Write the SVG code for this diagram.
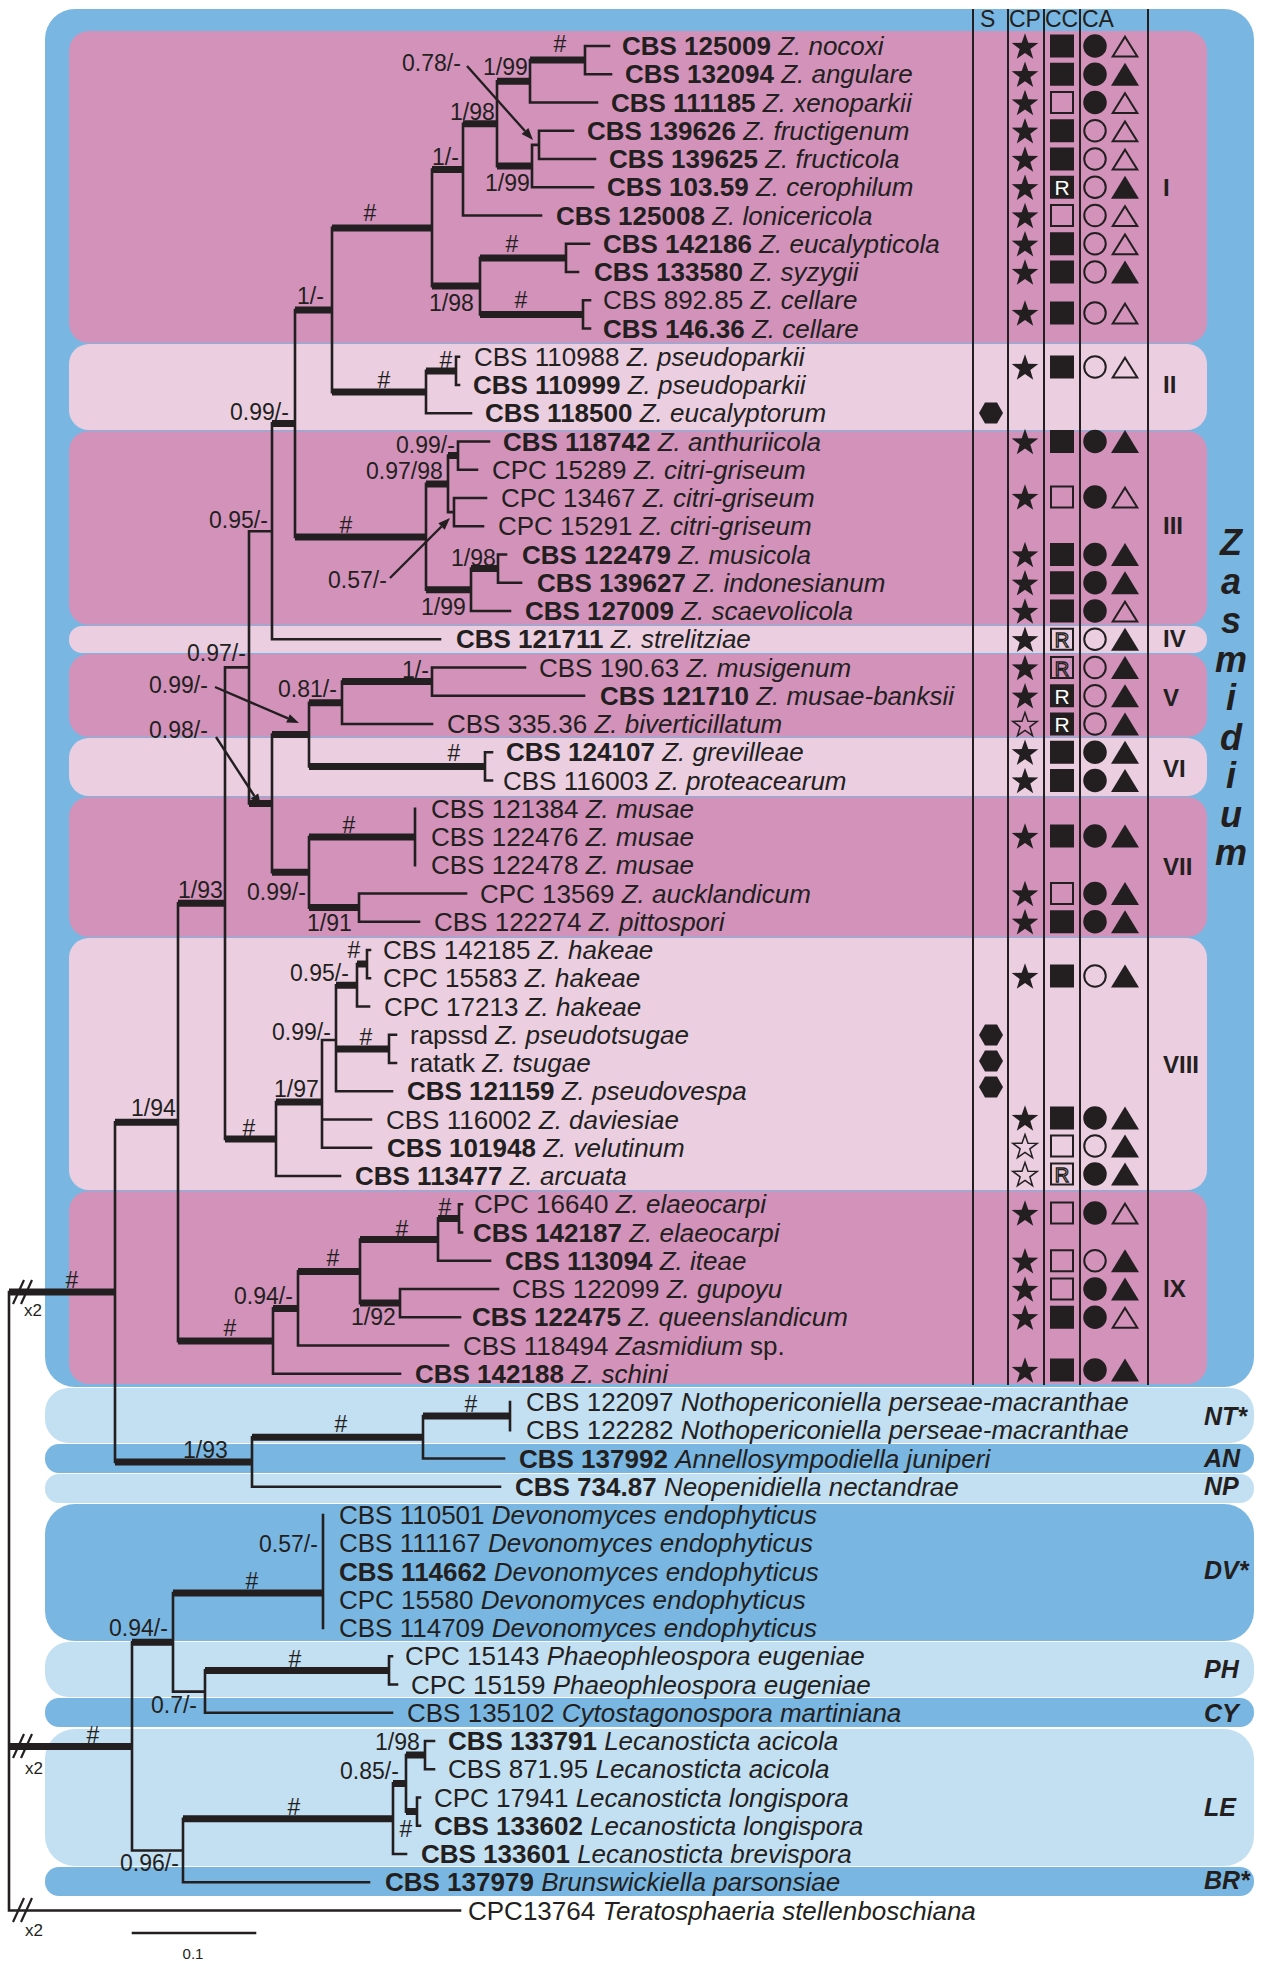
<svg xmlns="http://www.w3.org/2000/svg" xmlns:xlink="http://www.w3.org/1999/xlink" width="1263" height="1961" viewBox="0 0 1263 1961">
<style>
text{font-family:"Liberation Sans",Arial,Helvetica,sans-serif;fill:#231f20}
.tax{font-size:26px}
.sup{font-size:23px}
.hs{font-size:23px;text-anchor:middle}
.b{font-weight:bold}
.i{font-style:italic}
.cl{font-size:24px;font-weight:bold}
.gl{font-size:25px;font-weight:bold;font-style:italic}
.zl{font-size:36px;font-weight:bold;font-style:italic;text-anchor:middle}
.thin{fill:none;stroke:#231f20;stroke-width:2.6;stroke-linecap:square}
.thick{fill:none;stroke:#231f20;stroke-width:7}
.ar{fill:none;stroke:#231f20;stroke-width:2.4}
.ah{fill:#231f20}
.col{stroke:#231f20;stroke-width:2}
.dk{fill:#d292ba}
.lt{fill:#ebcfe1}
.bl{fill:#79b7e2}
.lb{fill:#c3dff2}
.f{fill:#231f20}
.o{fill:none;stroke:#231f20;stroke-width:2}
</style>
<defs>
<polygon id="starF" class="f" points="0,-14 3.29,-4.53 13.31,-4.33 5.33,1.73 8.23,11.33 0,5.6 -8.23,11.33 -5.33,1.73 -13.31,-4.33 -3.29,-4.53" transform="translate(0,1.3)"/>
<polygon id="starO" fill="none" stroke="#231f20" stroke-width="1.5" stroke-linejoin="miter" points="0,-12.8 3.01,-4.14 12.17,-3.96 4.87,1.58 7.52,10.36 0,5.1 -7.52,10.36 -4.87,1.58 -12.17,-3.96 -3.01,-4.14" transform="translate(0,1.3)"/>
<rect id="sqF" class="f" x="-12" y="-11.5" width="24" height="23"/>
<rect id="sqO" class="o" x="-11" y="-10.5" width="22" height="21"/>
<g id="sqRF"><rect class="f" x="-12" y="-11.5" width="24" height="23"/><text x="0" y="8" font-size="21" text-anchor="middle" style="fill:#ffffff">R</text></g>
<g id="sqRO"><rect class="o" x="-11" y="-10.5" width="22" height="21"/><text x="0" y="8" font-size="20" text-anchor="middle" style="fill:none;stroke:#231f20;stroke-width:1.3">R</text></g>
<circle id="ciF" class="f" r="11.75"/>
<circle id="ciO" class="o" r="10.75"/>
<polygon id="trF" class="f" points="0,-11.5 14,11.5 -14,11.5"/>
<polygon id="trO" class="o" points="0,-9.3 12.3,10.5 -12.3,10.5"/>
<polygon id="hex" class="f" points="-12,0 -6,-10.5 6,-10.5 12,0 6,10.5 -6,10.5"/>
</defs>

<g id="backgrounds">
<rect class="bl" x="45" y="9" width="1209" height="1378" rx="30"/>
<rect id="clade-I" class="dk" x="69" y="31" width="1138" height="312" rx="20"/>
<rect id="clade-II" class="lt" x="69" y="344" width="1138" height="86" rx="20"/>
<rect id="clade-III" class="dk" x="69" y="431" width="1138" height="194" rx="20"/>
<rect id="clade-IV" class="lt" x="69" y="626" width="1138" height="27" rx="13"/>
<rect id="clade-V" class="dk" x="69" y="654" width="1138" height="83" rx="20"/>
<rect id="clade-VI" class="lt" x="69" y="738" width="1138" height="58" rx="20"/>
<rect id="clade-VII" class="dk" x="69" y="797" width="1138" height="140" rx="20"/>
<rect id="clade-VIII" class="lt" x="69" y="938" width="1138" height="252" rx="20"/>
<rect id="clade-IX" class="dk" x="69" y="1191" width="1138" height="193" rx="20"/>
<rect id="box-NT" class="lb" x="45" y="1388" width="1209" height="55" rx="24"/>
<rect id="box-AN" class="bl" x="45" y="1444" width="1209" height="29" rx="14"/>
<rect id="box-NP" class="lb" x="45" y="1474" width="1209" height="29" rx="14"/>
<rect id="box-DV" class="bl" x="45" y="1504" width="1209" height="137" rx="30"/>
<rect id="box-PH" class="lb" x="45" y="1642" width="1209" height="55" rx="24"/>
<rect id="box-CY" class="bl" x="45" y="1698" width="1209" height="29" rx="14"/>
<rect id="box-LE" class="lb" x="45" y="1729" width="1209" height="137" rx="30"/>
<rect id="box-BR" class="bl" x="45" y="1867" width="1209" height="29" rx="14"/>
</g>

<g id="columns">
<line class="col" x1="973" y1="9" x2="973" y2="1385"/>
<line class="col" x1="1008" y1="9" x2="1008" y2="1385"/>
<line class="col" x1="1044" y1="9" x2="1044" y2="1385"/>
<line class="col" x1="1080" y1="9" x2="1080" y2="1385"/>
<line class="col" x1="1148" y1="9" x2="1148" y2="1385"/>
<text x="980" y="27" font-size="23">S</text>
<text x="1009" y="27" font-size="23">CP</text>
<text x="1045" y="27" font-size="23">CC</text>
<text x="1082" y="27" font-size="23">CA</text>
</g>

<g id="connectors">
<path class="thin" d="M585 46V74.25M585 46H609M585 74.25H611M530 60.1V102.5M530 102.5H597M497 81.3V166.1M532 144.9V187.25M532 144.9H539M532 187.25H593M539 130.75V159M539 130.75H573M539 159H595M463 123.7V215.5M463 215.5H541M432 169.6V286.1M480 257.9V314.4M566 243.75V272M566 243.75H589M566 272H578M583 300.25V328.5M583 300.25H590M583 328.5H590M332 227.9V392.1M426 370.9V413.25M426 413.25H471M456 356.75V385M456 356.75H459M456 385H459M295 310V536.9M426 483.9V589.8M448 455.6V512.1M448 512.1H454M458 441.5V469.75M458 441.5H489M458 469.75H477M454 498V526.25M454 498H486M454 526.25H483M471 568.6V611M471 611H510M498 554.5V582.75M498 554.5H506M498 582.75H521M272 423.4V639.25M272 639.25H440M249 531.3H272M249 531.3V803.5M225 667.4H249M272 734.6V872.3M309 702.8V766.4M342 681.6V724M342 724H432M432 667.5V695.75M432 667.5H525M432 695.75H584M485 752.25V780.5M485 752.25H492M485 780.5H492M309 837V907.6M415 808.75V865.25M359 893.5V921.75M359 893.5H466M359 921.75H419M225 667.4V1139M276 1102V1176M276 1176H340M322 1040V1147.75M322 1119.5H371M322 1147.75H371M322 1040H336M336 985.3V1091.25M336 1091.25H392M357 964.1V1006.5M357 1006.5H369M367 950V978.25M367 950H370M367 978.25H370M389 1034.75V1063M389 1034.75H396M389 1063H396M178 903.2V1341.1M273 1308.4V1373.75M273 1373.75H400M298 1271.4V1345.5M298 1345.5H448M360 1239.6V1303.1M438 1218.4V1260.75M438 1260.75H490M459 1204.25V1232.5M459 1204.25H462M459 1232.5H462M400 1289V1317.25M400 1289H498M400 1317.25H460M115 1122.2V1462M252 1437.3V1486.75M252 1486.75H500M423 1416.1V1458.5M423 1458.5H504M510 1402V1430.25M132 1642.3V1850.5M173 1593V1691.6M323 1515V1628M173 1691.6H205M205 1670.4V1712.75M205 1712.75H392M389 1656.25V1684.5M389 1656.25H392M389 1684.5H397M132 1850.5H183M183 1818.7V1882.25M183 1882.25H369M393 1783.4V1854M393 1854H406M406 1755.1V1811.6M425 1741V1769.25M425 1741H434M425 1769.25H434M417 1797.5V1825.75M417 1797.5H420M417 1825.75H420M9 1292.1V1910.5M9 1910.5H460"/>
<path class="thick" d="M530 60.1H585M497 81.3H530M497 166.1H532M463 123.7H497M432 169.6H463M432 286.1H480M480 257.9H566M480 314.4H583M332 227.9H432M295 310H332M332 392.1H426M426 370.9H456M272 423.4H295M295 536.9H426M426 483.9H448M448 455.6H458M426 589.8H471M471 568.6H498M249 803.5H272M272 734.6H309M309 702.8H342M342 681.6H432M309 766.4H485M272 872.3H309M309 837H415M309 907.6H359M178 903.2H225M225 1139H276M276 1102H322M336 985.3H357M357 964.1H367M336 1048.9H389M115 1122.2H178M178 1341.1H273M273 1308.4H298M298 1271.4H360M360 1239.6H438M438 1218.4H459M360 1303.1H400M9 1292.1H115M115 1462H252M252 1437.3H423M423 1416.1H510M9 1746.4H132M132 1642.3H173M173 1593H323M205 1670.4H389M183 1818.7H393M393 1783.4H406M406 1755.1H425M406 1811.6H417"/>
<g id="arrows">
<line class="ar" x1="467" y1="66" x2="525" y2="131"/><polygon class="ah" points="533,140 521.6,134 528.4,128"/>
<line class="ar" x1="390" y1="578" x2="441.5" y2="526.5"/><polygon class="ah" points="450,518 444.7,529.7 438.3,523.3"/>
<line class="ar" x1="215" y1="687" x2="288" y2="718.3"/><polygon class="ah" points="299,723 286.2,722.4 289.8,714.2"/>
<line class="ar" x1="216" y1="737" x2="254.4" y2="796"/><polygon class="ah" points="261,806 250.7,798.5 258.2,793.5"/>
</g>
<g id="breaks" stroke="#231f20" stroke-width="2.2">
<line x1="13" y1="1304" x2="24" y2="1280"/><line x1="21" y1="1304" x2="32" y2="1280"/>
<line x1="13" y1="1758" x2="24" y2="1734"/><line x1="21" y1="1758" x2="32" y2="1734"/>
<line x1="13" y1="1922" x2="24" y2="1898"/><line x1="21" y1="1922" x2="32" y2="1898"/>
</g>
<line id="scalebar" class="thin" x1="133" y1="1933" x2="255" y2="1933"/>
</g>

<g id="break-labels" font-size="17">
<text x="24" y="1316" font-size="17">x2</text>
<text x="25" y="1774" font-size="17">x2</text>
<text x="25" y="1936" font-size="17">x2</text>
<text x="193" y="1959" font-size="15" text-anchor="middle">0.1</text>
</g>

<g id="supports">
<text class="sup" x="402" y="71">0.78/-</text>
<text class="sup" x="483" y="75">1/99</text>
<text class="sup" x="450" y="120">1/98</text>
<text class="sup" x="432" y="165">1/-</text>
<text class="sup" x="485" y="191">1/99</text>
<text class="hs" x="560" y="52">#</text>
<text class="hs" x="370" y="221">#</text>
<text class="hs" x="512" y="252">#</text>
<text class="hs" x="521" y="308">#</text>
<text class="sup" x="429" y="311">1/98</text>
<text class="sup" x="297" y="304">1/-</text>
<text class="hs" x="384" y="388">#</text>
<text class="hs" x="446" y="368">#</text>
<text class="sup" x="230" y="420">0.99/-</text>
<text class="sup" x="396" y="453">0.99/-</text>
<text class="sup" x="366" y="479">0.97/98</text>
<text class="hs" x="346" y="533">#</text>
<text class="sup" x="451" y="566">1/98</text>
<text class="sup" x="328" y="588">0.57/-</text>
<text class="sup" x="421" y="615">1/99</text>
<text class="sup" x="209" y="528">0.95/-</text>
<text class="sup" x="187" y="661">0.97/-</text>
<text class="sup" x="402" y="678">1/-</text>
<text class="sup" x="149" y="693">0.99/-</text>
<text class="sup" x="278" y="697">0.81/-</text>
<text class="sup" x="149" y="738">0.98/-</text>
<text class="hs" x="454" y="761">#</text>
<text class="hs" x="349" y="833">#</text>
<text class="sup" x="178" y="898">1/93</text>
<text class="sup" x="247" y="900">0.99/-</text>
<text class="sup" x="307" y="931">1/91</text>
<text class="hs" x="354" y="958">#</text>
<text class="sup" x="290" y="981">0.95/-</text>
<text class="hs" x="366" y="1045">#</text>
<text class="sup" x="272" y="1040">0.99/-</text>
<text class="sup" x="274" y="1097">1/97</text>
<text class="hs" x="249" y="1136">#</text>
<text class="sup" x="131" y="1116">1/94</text>
<text class="hs" x="445" y="1215">#</text>
<text class="hs" x="402" y="1237">#</text>
<text class="hs" x="333" y="1266">#</text>
<text class="sup" x="234" y="1304">0.94/-</text>
<text class="sup" x="351" y="1325">1/92</text>
<text class="hs" x="230" y="1336">#</text>
<text class="hs" x="72" y="1288">#</text>
<text class="hs" x="341" y="1432">#</text>
<text class="hs" x="471" y="1412">#</text>
<text class="sup" x="183" y="1458">1/93</text>
<text class="hs" x="252" y="1589">#</text>
<text class="sup" x="259" y="1552">0.57/-</text>
<text class="sup" x="109" y="1636">0.94/-</text>
<text class="hs" x="93" y="1743">#</text>
<text class="hs" x="295" y="1667">#</text>
<text class="sup" x="151" y="1713">0.7/-</text>
<text class="sup" x="375" y="1750">1/98</text>
<text class="sup" x="340" y="1779">0.85/-</text>
<text class="hs" x="294" y="1815">#</text>
<text class="hs" x="406" y="1837">#</text>
<text class="sup" x="120" y="1871">0.96/-</text>
</g>

<g id="taxa" class="tax">
<g id="t01"><text class="tax" x="622" y="55"><tspan class="b">CBS 125009</tspan> <tspan class="i">Z. nocoxi</tspan></text></g>
<g id="t02"><text class="tax" x="625" y="83.25"><tspan class="b">CBS 132094</tspan> <tspan class="i">Z. angulare</tspan></text></g>
<g id="t03"><text class="tax" x="611" y="111.5"><tspan class="b">CBS 111185</tspan> <tspan class="i">Z. xenoparkii</tspan></text></g>
<g id="t04"><text class="tax" x="587" y="139.75"><tspan class="b">CBS 139626</tspan> <tspan class="i">Z. fructigenum</tspan></text></g>
<g id="t05"><text class="tax" x="609" y="168"><tspan class="b">CBS 139625</tspan> <tspan class="i">Z. fructicola</tspan></text></g>
<g id="t06"><text class="tax" x="607" y="196.25"><tspan class="b">CBS 103.59</tspan> <tspan class="i">Z. cerophilum</tspan></text></g>
<g id="t07"><text class="tax" x="556" y="224.5"><tspan class="b">CBS 125008</tspan> <tspan class="i">Z. lonicericola</tspan></text></g>
<g id="t08"><text class="tax" x="603" y="252.75"><tspan class="b">CBS 142186</tspan> <tspan class="i">Z. eucalypticola</tspan></text></g>
<g id="t09"><text class="tax" x="594" y="281"><tspan class="b">CBS 133580</tspan> <tspan class="i">Z. syzygii</tspan></text></g>
<g id="t10"><text class="tax" x="603" y="309.25">CBS 892.85 <tspan class="i">Z. cellare</tspan></text></g>
<g id="t11"><text class="tax" x="603" y="337.5"><tspan class="b">CBS 146.36</tspan> <tspan class="i">Z. cellare</tspan></text></g>
<g id="t12"><text class="tax" x="474" y="365.75">CBS 110988 <tspan class="i">Z. pseudoparkii</tspan></text></g>
<g id="t13"><text class="tax" x="473" y="394"><tspan class="b">CBS 110999</tspan> <tspan class="i">Z. pseudoparkii</tspan></text></g>
<g id="t14"><text class="tax" x="485" y="422.25"><tspan class="b">CBS 118500</tspan> <tspan class="i">Z. eucalyptorum</tspan></text></g>
<g id="t15"><text class="tax" x="503" y="450.5"><tspan class="b">CBS 118742</tspan> <tspan class="i">Z. anthuriicola</tspan></text></g>
<g id="t16"><text class="tax" x="492" y="478.75">CPC 15289 <tspan class="i">Z. citri-griseum</tspan></text></g>
<g id="t17"><text class="tax" x="501" y="507">CPC 13467 <tspan class="i">Z. citri-griseum</tspan></text></g>
<g id="t18"><text class="tax" x="498" y="535.25">CPC 15291 <tspan class="i">Z. citri-griseum</tspan></text></g>
<g id="t19"><text class="tax" x="522" y="563.5"><tspan class="b">CBS 122479</tspan> <tspan class="i">Z. musicola</tspan></text></g>
<g id="t20"><text class="tax" x="537" y="591.75"><tspan class="b">CBS 139627</tspan> <tspan class="i">Z. indonesianum</tspan></text></g>
<g id="t21"><text class="tax" x="525" y="620"><tspan class="b">CBS 127009</tspan> <tspan class="i">Z. scaevolicola</tspan></text></g>
<g id="t22"><text class="tax" x="456" y="648.25"><tspan class="b">CBS 121711</tspan> <tspan class="i">Z. strelitziae</tspan></text></g>
<g id="t23"><text class="tax" x="539" y="676.5">CBS 190.63 <tspan class="i">Z. musigenum</tspan></text></g>
<g id="t24"><text class="tax" x="600" y="704.75"><tspan class="b">CBS 121710</tspan> <tspan class="i">Z. musae-banksii</tspan></text></g>
<g id="t25"><text class="tax" x="447" y="733">CBS 335.36 <tspan class="i">Z. biverticillatum</tspan></text></g>
<g id="t26"><text class="tax" x="506" y="761.25"><tspan class="b">CBS 124107</tspan> <tspan class="i">Z. grevilleae</tspan></text></g>
<g id="t27"><text class="tax" x="503" y="789.5">CBS 116003 <tspan class="i">Z. proteacearum</tspan></text></g>
<g id="t28"><text class="tax" x="431" y="817.75">CBS 121384 <tspan class="i">Z. musae</tspan></text></g>
<g id="t29"><text class="tax" x="431" y="846">CBS 122476 <tspan class="i">Z. musae</tspan></text></g>
<g id="t30"><text class="tax" x="431" y="874.25">CBS 122478 <tspan class="i">Z. musae</tspan></text></g>
<g id="t31"><text class="tax" x="480" y="902.5">CPC 13569 <tspan class="i">Z. aucklandicum</tspan></text></g>
<g id="t32"><text class="tax" x="434" y="930.75">CBS 122274 <tspan class="i">Z. pittospori</tspan></text></g>
<g id="t33"><text class="tax" x="383" y="959">CBS 142185 <tspan class="i">Z. hakeae</tspan></text></g>
<g id="t34"><text class="tax" x="383" y="987.25">CPC 15583 <tspan class="i">Z. hakeae</tspan></text></g>
<g id="t35"><text class="tax" x="384" y="1015.5">CPC 17213 <tspan class="i">Z. hakeae</tspan></text></g>
<g id="t36"><text class="tax" x="410" y="1043.75">rapssd <tspan class="i">Z. pseudotsugae</tspan></text></g>
<g id="t37"><text class="tax" x="410" y="1072">ratatk <tspan class="i">Z. tsugae</tspan></text></g>
<g id="t38"><text class="tax" x="407" y="1100.25"><tspan class="b">CBS 121159</tspan> <tspan class="i">Z. pseudovespa</tspan></text></g>
<g id="t39"><text class="tax" x="386" y="1128.5">CBS 116002 <tspan class="i">Z. daviesiae</tspan></text></g>
<g id="t40"><text class="tax" x="387" y="1156.75"><tspan class="b">CBS 101948</tspan> <tspan class="i">Z. velutinum</tspan></text></g>
<g id="t41"><text class="tax" x="355" y="1185"><tspan class="b">CBS 113477</tspan> <tspan class="i">Z. arcuata</tspan></text></g>
<g id="t42"><text class="tax" x="474" y="1213.25">CPC 16640 <tspan class="i">Z. elaeocarpi</tspan></text></g>
<g id="t43"><text class="tax" x="473" y="1241.5"><tspan class="b">CBS 142187</tspan> <tspan class="i">Z. elaeocarpi</tspan></text></g>
<g id="t44"><text class="tax" x="505" y="1269.75"><tspan class="b">CBS 113094</tspan> <tspan class="i">Z. iteae</tspan></text></g>
<g id="t45"><text class="tax" x="512" y="1298">CBS 122099 <tspan class="i">Z. gupoyu</tspan></text></g>
<g id="t46"><text class="tax" x="472" y="1326.25"><tspan class="b">CBS 122475</tspan> <tspan class="i">Z. queenslandicum</tspan></text></g>
<g id="t47"><text class="tax" x="463" y="1354.5">CBS 118494 <tspan class="i">Zasmidium</tspan> sp.</text></g>
<g id="t48"><text class="tax" x="415" y="1382.75"><tspan class="b">CBS 142188</tspan> <tspan class="i">Z. schini</tspan></text></g>
<g id="t49"><text class="tax" x="526" y="1411">CBS 122097 <tspan class="i">Nothopericoniella perseae-macranthae</tspan></text></g>
<g id="t50"><text class="tax" x="526" y="1439.25">CBS 122282 <tspan class="i">Nothopericoniella perseae-macranthae</tspan></text></g>
<g id="t51"><text class="tax" x="519" y="1467.5"><tspan class="b">CBS 137992</tspan> <tspan class="i">Annellosympodiella juniperi</tspan></text></g>
<g id="t52"><text class="tax" x="515" y="1495.75"><tspan class="b">CBS 734.87</tspan> <tspan class="i">Neopenidiella nectandrae</tspan></text></g>
<g id="t53"><text class="tax" x="339" y="1524">CBS 110501 <tspan class="i">Devonomyces endophyticus</tspan></text></g>
<g id="t54"><text class="tax" x="339" y="1552.25">CBS 111167 <tspan class="i">Devonomyces endophyticus</tspan></text></g>
<g id="t55"><text class="tax" x="339" y="1580.5"><tspan class="b">CBS 114662</tspan> <tspan class="i">Devonomyces endophyticus</tspan></text></g>
<g id="t56"><text class="tax" x="339" y="1608.75">CPC 15580 <tspan class="i">Devonomyces endophyticus</tspan></text></g>
<g id="t57"><text class="tax" x="339" y="1637">CBS 114709 <tspan class="i">Devonomyces endophyticus</tspan></text></g>
<g id="t58"><text class="tax" x="405" y="1665.25">CPC 15143 <tspan class="i">Phaeophleospora eugeniae</tspan></text></g>
<g id="t59"><text class="tax" x="411" y="1693.5">CPC 15159 <tspan class="i">Phaeophleospora eugeniae</tspan></text></g>
<g id="t60"><text class="tax" x="407" y="1721.75">CBS 135102 <tspan class="i">Cytostagonospora martiniana</tspan></text></g>
<g id="t61"><text class="tax" x="448" y="1750"><tspan class="b">CBS 133791</tspan> <tspan class="i">Lecanosticta acicola</tspan></text></g>
<g id="t62"><text class="tax" x="448" y="1778.25">CBS 871.95 <tspan class="i">Lecanosticta acicola</tspan></text></g>
<g id="t63"><text class="tax" x="434" y="1806.5">CPC 17941 <tspan class="i">Lecanosticta longispora</tspan></text></g>
<g id="t64"><text class="tax" x="434" y="1834.75"><tspan class="b">CBS 133602</tspan> <tspan class="i">Lecanosticta longispora</tspan></text></g>
<g id="t65"><text class="tax" x="421" y="1863"><tspan class="b">CBS 133601</tspan> <tspan class="i">Lecanosticta brevispora</tspan></text></g>
<g id="t66"><text class="tax" x="385" y="1891.25"><tspan class="b">CBS 137979</tspan> <tspan class="i">Brunswickiella parsonsiae</tspan></text></g>
<g id="t67"><text class="tax" x="468" y="1919.5">CPC13764 <tspan class="i">Teratosphaeria stellenboschiana</tspan></text></g>
</g>

<g id="traits">
<use href="#starF" x="1025" y="46"/><use href="#sqF" x="1062" y="46"/><use href="#ciF" x="1095" y="46"/><use href="#trO" x="1125" y="46"/>
<use href="#starF" x="1025" y="74.25"/><use href="#sqF" x="1062" y="74.25"/><use href="#ciF" x="1095" y="74.25"/><use href="#trF" x="1125" y="74.25"/>
<use href="#starF" x="1025" y="102.5"/><use href="#sqO" x="1062" y="102.5"/><use href="#ciF" x="1095" y="102.5"/><use href="#trO" x="1125" y="102.5"/>
<use href="#starF" x="1025" y="130.75"/><use href="#sqF" x="1062" y="130.75"/><use href="#ciO" x="1095" y="130.75"/><use href="#trO" x="1125" y="130.75"/>
<use href="#starF" x="1025" y="159"/><use href="#sqF" x="1062" y="159"/><use href="#ciO" x="1095" y="159"/><use href="#trO" x="1125" y="159"/>
<use href="#starF" x="1025" y="187.25"/><use href="#sqRF" x="1062" y="187.25"/><use href="#ciO" x="1095" y="187.25"/><use href="#trF" x="1125" y="187.25"/>
<use href="#starF" x="1025" y="215.5"/><use href="#sqO" x="1062" y="215.5"/><use href="#ciO" x="1095" y="215.5"/><use href="#trO" x="1125" y="215.5"/>
<use href="#starF" x="1025" y="243.75"/><use href="#sqF" x="1062" y="243.75"/><use href="#ciO" x="1095" y="243.75"/><use href="#trO" x="1125" y="243.75"/>
<use href="#starF" x="1025" y="272"/><use href="#sqF" x="1062" y="272"/><use href="#ciO" x="1095" y="272"/><use href="#trF" x="1125" y="272"/>
<use href="#starF" x="1025" y="313"/><use href="#sqF" x="1062" y="313"/><use href="#ciO" x="1095" y="313"/><use href="#trO" x="1125" y="313"/>
<use href="#starF" x="1025" y="367"/><use href="#sqF" x="1062" y="367"/><use href="#ciO" x="1095" y="367"/><use href="#trO" x="1125" y="367"/>
<use href="#hex" x="991" y="413"/>
<use href="#starF" x="1025" y="441.5"/><use href="#sqF" x="1062" y="441.5"/><use href="#ciF" x="1095" y="441.5"/><use href="#trF" x="1125" y="441.5"/>
<use href="#starF" x="1025" y="497"/><use href="#sqO" x="1062" y="497"/><use href="#ciF" x="1095" y="497"/><use href="#trO" x="1125" y="497"/>
<use href="#starF" x="1025" y="554.5"/><use href="#sqF" x="1062" y="554.5"/><use href="#ciF" x="1095" y="554.5"/><use href="#trF" x="1125" y="554.5"/>
<use href="#starF" x="1025" y="582.75"/><use href="#sqF" x="1062" y="582.75"/><use href="#ciF" x="1095" y="582.75"/><use href="#trF" x="1125" y="582.75"/>
<use href="#starF" x="1025" y="611"/><use href="#sqF" x="1062" y="611"/><use href="#ciF" x="1095" y="611"/><use href="#trO" x="1125" y="611"/>
<use href="#starF" x="1025" y="639.25"/><use href="#sqRO" x="1062" y="639.25"/><use href="#ciO" x="1095" y="639.25"/><use href="#trF" x="1125" y="639.25"/>
<use href="#starF" x="1025" y="667.5"/><use href="#sqRO" x="1062" y="667.5"/><use href="#ciO" x="1095" y="667.5"/><use href="#trF" x="1125" y="667.5"/>
<use href="#starF" x="1025" y="695.75"/><use href="#sqRF" x="1062" y="695.75"/><use href="#ciO" x="1095" y="695.75"/><use href="#trF" x="1125" y="695.75"/>
<use href="#starO" x="1025" y="724"/><use href="#sqRF" x="1062" y="724"/><use href="#ciO" x="1095" y="724"/><use href="#trF" x="1125" y="724"/>
<use href="#starF" x="1025" y="752.25"/><use href="#sqF" x="1062" y="752.25"/><use href="#ciF" x="1095" y="752.25"/><use href="#trF" x="1125" y="752.25"/>
<use href="#starF" x="1025" y="780.5"/><use href="#sqF" x="1062" y="780.5"/><use href="#ciF" x="1095" y="780.5"/><use href="#trF" x="1125" y="780.5"/>
<use href="#starF" x="1025" y="836"/><use href="#sqF" x="1062" y="836"/><use href="#ciF" x="1095" y="836"/><use href="#trF" x="1125" y="836"/>
<use href="#starF" x="1025" y="893.5"/><use href="#sqO" x="1062" y="893.5"/><use href="#ciF" x="1095" y="893.5"/><use href="#trF" x="1125" y="893.5"/>
<use href="#starF" x="1025" y="921.75"/><use href="#sqF" x="1062" y="921.75"/><use href="#ciF" x="1095" y="921.75"/><use href="#trF" x="1125" y="921.75"/>
<use href="#starF" x="1025" y="976"/><use href="#sqF" x="1062" y="976"/><use href="#ciO" x="1095" y="976"/><use href="#trF" x="1125" y="976"/>
<use href="#hex" x="991" y="1035"/><use href="#hex" x="991" y="1061"/><use href="#hex" x="991" y="1087"/>
<use href="#starF" x="1025" y="1118"/><use href="#sqF" x="1062" y="1118"/><use href="#ciF" x="1095" y="1118"/><use href="#trF" x="1125" y="1118"/>
<use href="#starO" x="1025" y="1146"/><use href="#sqO" x="1062" y="1146"/><use href="#ciO" x="1095" y="1146"/><use href="#trF" x="1125" y="1146"/>
<use href="#starO" x="1025" y="1174"/><use href="#sqRO" x="1062" y="1174"/><use href="#ciF" x="1095" y="1174"/><use href="#trF" x="1125" y="1174"/>
<use href="#starF" x="1025" y="1213"/><use href="#sqO" x="1062" y="1213"/><use href="#ciF" x="1095" y="1213"/><use href="#trO" x="1125" y="1213"/>
<use href="#starF" x="1025" y="1260.75"/><use href="#sqO" x="1062" y="1260.75"/><use href="#ciO" x="1095" y="1260.75"/><use href="#trF" x="1125" y="1260.75"/>
<use href="#starF" x="1025" y="1289"/><use href="#sqO" x="1062" y="1289"/><use href="#ciF" x="1095" y="1289"/><use href="#trF" x="1125" y="1289"/>
<use href="#starF" x="1025" y="1317.25"/><use href="#sqF" x="1062" y="1317.25"/><use href="#ciF" x="1095" y="1317.25"/><use href="#trO" x="1125" y="1317.25"/>
<use href="#starF" x="1025" y="1370"/><use href="#sqF" x="1062" y="1370"/><use href="#ciF" x="1095" y="1370"/><use href="#trF" x="1125" y="1370"/>
</g>

<g id="clade-labels">
<text class="cl" x="1163" y="196">I</text>
<text class="cl" x="1163" y="393">II</text>
<text class="cl" x="1163" y="534">III</text>
<text class="cl" x="1163" y="647">IV</text>
<text class="cl" x="1163" y="706">V</text>
<text class="cl" x="1163" y="777">VI</text>
<text class="cl" x="1163" y="875">VII</text>
<text class="cl" x="1163" y="1073">VIII</text>
<text class="cl" x="1163" y="1297">IX</text>
<text class="gl" x="1204" y="1425">NT*</text>
<text class="gl" x="1204" y="1467">AN</text>
<text class="gl" x="1204" y="1495">NP</text>
<text class="gl" x="1204" y="1579">DV*</text>
<text class="gl" x="1204" y="1678">PH</text>
<text class="gl" x="1204" y="1722">CY</text>
<text class="gl" x="1204" y="1816">LE</text>
<text class="gl" x="1204" y="1889">BR*</text>
</g>

<g id="genus-label">
<text class="zl" x="1231" y="555">Z</text>
<text class="zl" x="1231" y="594">a</text>
<text class="zl" x="1231" y="633">s</text>
<text class="zl" x="1231" y="672">m</text>
<text class="zl" x="1231" y="710">i</text>
<text class="zl" x="1231" y="750">d</text>
<text class="zl" x="1231" y="788">i</text>
<text class="zl" x="1231" y="827">u</text>
<text class="zl" x="1231" y="865">m</text>
</g>
</svg>
